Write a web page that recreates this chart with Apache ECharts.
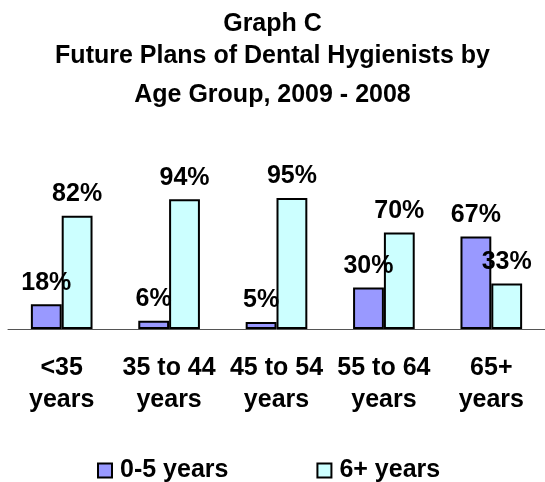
<!DOCTYPE html>
<html>
<head>
<meta charset="utf-8">
<script src="https://cdn.jsdelivr.net/npm/echarts@6/dist/echarts.min.js"></script>
<style>
html,body{margin:0;padding:0;background:#fff;}
#chart{width:545px;height:482px;}
</style>
</head>
<body>
<div id="chart"></div>
<script>
var titleLines = ['Graph C', 'Future Plans of Dental Hygienists by', 'Age Group, 2009 - 2008'];
var categories = ['<35\nyears', '35 to 44\nyears', '45 to 54\nyears', '55 to 64\nyears', '65+\nyears'];
var seriesNames = ['0-5 years', '6+ years'];
var values05 = [18, 6, 5, 30, 67];
var values6plus = [82, 94, 95, 70, 33];

var FONT = '"Liberation Sans", Arial, Helvetica, sans-serif';
var chart = echarts.init(document.getElementById('chart'), null, {renderer: 'canvas'});

var titleTops = [12, 44, 83];
var titles = titleLines.map(function (t, i) {
  return {
    text: t,
    left: 'center',
    top: titleTops[i],
    padding: [0, 34, 0, 0],
    textStyle: {fontFamily: FONT, fontSize: 25, fontWeight: 'bold', color: '#000'}
  };
});

var labelCfg = {
  show: true,
  position: 'top',
  distance: 9,
  formatter: '{c}%',
  fontFamily: FONT,
  fontSize: 25,
  fontWeight: 'bold',
  color: '#000'
};

chart.setOption({
  animation: false,
  backgroundColor: '#fff',
  title: titles,
  grid: {left: 8, top: 191, width: 540, height: 138, containLabel: false},
  xAxis: {
    type: 'category',
    data: categories,
    axisTick: {show: false},
    axisLine: {show: true, lineStyle: {color: '#555', width: 1}},
    axisLabel: {
      interval: 0,
      margin: 23,
      fontFamily: FONT,
      fontSize: 25,
      fontWeight: 'bold',
      color: '#000',
      lineHeight: 32
    }
  },
  yAxis: {
    type: 'value',
    min: 0,
    max: 100,
    show: false,
    splitLine: {show: false}
  },
  legend: {
    data: seriesNames,
    left: 97,
    top: 458,
    padding: 0,
    itemWidth: 14,
    itemHeight: 14,
    itemGap: 88,
    icon: 'rect',
    textStyle: {fontFamily: FONT, fontSize: 25, fontWeight: 'bold', color: '#000', padding: [0, 0, 0, 3]}
  },
  series: [
    {
      name: seriesNames[0],
      type: 'bar',
      data: values05,
      barGap: '0%',
      barCategoryGap: '42.6%',
      itemStyle: {color: '#9999FF', borderColor: '#000', borderWidth: 2},
      label: labelCfg
    },
    {
      name: seriesNames[1],
      type: 'bar',
      data: values6plus,
      barGap: '0%',
      barCategoryGap: '42.6%',
      itemStyle: {color: '#CCFFFF', borderColor: '#000', borderWidth: 2},
      label: labelCfg
    }
  ]
});
</script>
</body>
</html>
